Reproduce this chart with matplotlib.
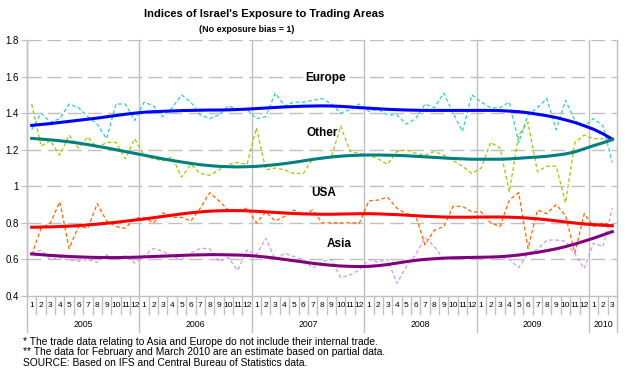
import matplotlib
matplotlib.use('Agg')
import matplotlib.pyplot as plt
from matplotlib.lines import Line2D

plt.rcParams['font.family'] = ['Liberation Sans', 'DejaVu Sans']

years = ['2005', '2006', '2007', '2008', '2009', '2010']
months_per_year = [12, 12, 12, 12, 12, 3]
month_labels = [str(m) for n in months_per_year for m in range(1, n + 1)]

# smoothed trend lines
europe_trend = [1.333, 1.338, 1.343, 1.349, 1.355, 1.361, 1.367, 1.373, 1.380, 1.387, 1.394, 1.400,
                1.405, 1.408, 1.410, 1.412, 1.414, 1.415, 1.416, 1.417, 1.417, 1.418, 1.420, 1.422,
                1.425, 1.428, 1.431, 1.434, 1.436, 1.438, 1.439, 1.440, 1.439, 1.437, 1.434, 1.430,
                1.427, 1.424, 1.421, 1.419, 1.417, 1.416, 1.415, 1.415, 1.415, 1.415, 1.415, 1.415,
                1.415, 1.415, 1.414, 1.411, 1.408, 1.402, 1.394, 1.386, 1.376, 1.363, 1.349, 1.331,
                1.312, 1.287, 1.258]
other_trend = [1.262, 1.258, 1.254, 1.249, 1.243, 1.236, 1.228, 1.219, 1.210, 1.200, 1.190, 1.180,
               1.170, 1.160, 1.150, 1.141, 1.133, 1.125, 1.118, 1.113, 1.109, 1.107, 1.106, 1.107,
               1.109, 1.113, 1.118, 1.124, 1.131, 1.139, 1.147, 1.154, 1.160, 1.165, 1.168, 1.170,
               1.171, 1.171, 1.170, 1.169, 1.167, 1.164, 1.161, 1.158, 1.155, 1.152, 1.150, 1.148,
               1.148, 1.148, 1.148, 1.150, 1.153, 1.157, 1.160, 1.164, 1.170, 1.177, 1.188, 1.205,
               1.222, 1.238, 1.255]
usa_trend = [0.776, 0.777, 0.778, 0.780, 0.782, 0.785, 0.789, 0.793, 0.798, 0.803, 0.809, 0.815,
             0.821, 0.828, 0.835, 0.842, 0.849, 0.855, 0.860, 0.864, 0.866, 0.867, 0.867, 0.866,
             0.863, 0.860, 0.857, 0.854, 0.851, 0.849, 0.848, 0.847, 0.847, 0.848, 0.849, 0.850,
             0.850, 0.849, 0.847, 0.845, 0.842, 0.839, 0.836, 0.834, 0.832, 0.831, 0.831, 0.831,
             0.832, 0.832, 0.832, 0.831, 0.829, 0.826, 0.822, 0.817, 0.811, 0.805, 0.799, 0.794,
             0.790, 0.787, 0.784]
asia_trend = [0.630, 0.626, 0.622, 0.619, 0.616, 0.614, 0.612, 0.611, 0.610, 0.610, 0.611, 0.612,
              0.614, 0.616, 0.618, 0.620, 0.622, 0.624, 0.625, 0.626, 0.626, 0.625, 0.624, 0.622,
              0.618, 0.613, 0.607, 0.600, 0.593, 0.586, 0.579, 0.573, 0.568, 0.564, 0.562, 0.561,
              0.562, 0.566, 0.572, 0.580, 0.588, 0.595, 0.600, 0.604, 0.607, 0.609, 0.610, 0.611,
              0.612, 0.613, 0.615, 0.619, 0.624, 0.631, 0.639, 0.648, 0.658, 0.670, 0.684, 0.700,
              0.716, 0.734, 0.752]

# monthly indices
europe = [1.31, 1.40, 1.35, 1.37, 1.45, 1.43, 1.38, 1.34, 1.26, 1.45, 1.45, 1.36,
          1.46, 1.44, 1.38, 1.43, 1.50, 1.46, 1.39, 1.37, 1.39, 1.44, 1.42, 1.42,
          1.37, 1.38, 1.51, 1.44, 1.46, 1.46, 1.47, 1.48, 1.45, 1.40, 1.42, 1.45,
          1.41, 1.42, 1.39, 1.39, 1.34, 1.37, 1.45, 1.43, 1.51, 1.40, 1.30, 1.50,
          1.46, 1.43, 1.43, 1.46, 1.24, 1.39, 1.43, 1.48, 1.31, 1.47, 1.36, 1.33,
          1.37, 1.33, 1.13]
other = [1.45, 1.22, 1.25, 1.17, 1.28, 1.21, 1.27, 1.21, 1.24, 1.24, 1.15, 1.26,
         1.17, 1.15, 1.14, 1.16, 1.05, 1.12, 1.07, 1.06, 1.09, 1.12, 1.13, 1.12,
         1.32, 1.09, 1.10, 1.09, 1.07, 1.07, 1.15, 1.15, 1.16, 1.33, 1.19, 1.18,
         1.17, 1.15, 1.12, 1.19, 1.20, 1.18, 1.17, 1.19, 1.17, 1.14, 1.11, 1.07,
         1.10, 1.24, 1.21, 0.97, 1.28, 1.35, 1.08, 1.11, 1.11, 0.91, 1.24, 1.28,
         1.26, 1.26, 1.26]
usa = [0.625, 0.77, 0.80, 0.915, 0.66, 0.78, 0.77, 0.905, 0.81, 0.78, 0.77, 0.825,
       0.83, 0.80, 0.855, 0.83, 0.83, 0.81, 0.88, 0.965, 0.92, 0.87, 0.86, 0.88,
       0.80, 0.86, 0.81, 0.835, 0.87, 0.845, 0.87, 0.80, 0.80, 0.80, 0.80, 0.80,
       0.92, 0.925, 0.94, 0.88, 0.85, 0.84, 0.68, 0.76, 0.78, 0.89, 0.89, 0.86,
       0.86, 0.80, 0.78, 0.925, 0.965, 0.66, 0.87, 0.85, 0.90, 0.84, 0.635, 0.85,
       0.78, 0.80, 0.79]
asia = [0.634, 0.65, 0.60, 0.61, 0.595, 0.59, 0.60, 0.583, 0.625, 0.60, 0.62, 0.58,
        0.62, 0.66, 0.645, 0.615, 0.60, 0.635, 0.66, 0.66, 0.588, 0.61, 0.54, 0.652,
        0.625, 0.716, 0.60, 0.634, 0.615, 0.60, 0.552, 0.588, 0.60, 0.50, 0.515, 0.543,
        0.60, 0.585, 0.60, 0.47, 0.56, 0.625, 0.72, 0.67, 0.60, 0.61, 0.61, 0.61,
        0.61, 0.615, 0.615, 0.60, 0.555, 0.635, 0.655, 0.706, 0.706, 0.70, 0.63, 0.55,
        0.69, 0.67, 0.88]

x = list(range(len(month_labels)))

fig = plt.figure(figsize=(6.31, 3.83), dpi=100, facecolor='white')
ax = fig.add_axes([27 / 631, 1 - 296 / 383, 590 / 631, 256 / 383])

grey = '#c0c0c0'
ax.set_xlim(-0.5, len(x) - 0.5)
ax.set_ylim(0.4, 1.8)
ax.set_yticks([0.4, 0.6, 0.8, 1.0, 1.2, 1.4, 1.6, 1.8])
ax.set_yticklabels(['0.4', '0.6', '0.8', '1', '1.2', '1.4', '1.6', '1.8'], fontsize=7)
ax.tick_params(axis='y', length=4, color=grey, pad=2)
ax.set_xticks([])
for s in ['top', 'right']:
    ax.spines[s].set_visible(False)
for s in ['left', 'bottom']:
    ax.spines[s].set_color(grey)
    ax.spines[s].set_linewidth(1)
for v in [0.6, 0.8, 1.0, 1.2, 1.4, 1.6, 1.8]:
    ax.axhline(v, color=grey, lw=1, dashes=(10, 4.5), zorder=0)

# month / year category axis
bounds = [-0.5]
for n in months_per_year:
    bounds.append(bounds[-1] + n)
for b in bounds:
    ax.add_line(Line2D([b, b], [-0.14, 1.0], transform=ax.get_xaxis_transform(),
                       color=grey, lw=1, clip_on=False, zorder=0))
for i, lab in enumerate(month_labels):
    ax.text(i, -0.038, lab, transform=ax.get_xaxis_transform(), ha='center', va='center', fontsize=6)
    if i + 0.5 not in bounds:
        ax.add_line(Line2D([i + 0.5, i + 0.5], [-0.07, 0], transform=ax.get_xaxis_transform(),
                           color=grey, lw=1, clip_on=False))
for k, yr in enumerate(years):
    ax.text((bounds[k] + bounds[k + 1]) / 2, -0.113, yr, transform=ax.get_xaxis_transform(),
            ha='center', va='center', fontsize=6.3)

dash = (3, 2)
ax.plot(x, europe, color='#33cccc', lw=0.9, dashes=dash)
ax.plot(x, other, color='#99cc00', lw=0.9, dashes=dash)
ax.plot(x, usa, color='#ff6600', lw=0.9, dashes=dash)
ax.plot(x, asia, color='#cc99ff', lw=0.9, dashes=dash)
ax.plot(x, europe_trend, color='#0000ff', lw=2.2)
ax.plot(x, other_trend, color='#008080', lw=2.2)
ax.plot(x, usa_trend, color='#ff0000', lw=2.2)
ax.plot(x, asia_trend, color='#800080', lw=2.2)

ax.text(31.4, 1.592, 'Europe', ha='center', va='center', fontsize=8.5, fontweight='bold')
ax.text(31.0, 1.291, 'Other', ha='center', va='center', fontsize=8.5, fontweight='bold')
ax.text(31.2, 0.965, 'USA', ha='center', va='center', fontsize=8.5, fontweight='bold')
ax.text(32.8, 0.685, 'Asia', ha='center', va='center', fontsize=8.5, fontweight='bold')

fig.text(264 / 631, 1 - 14 / 383, "Indices of Israel's Exposure to Trading Areas",
         ha='center', va='center', fontsize=8.1, fontweight='bold')
fig.text(247 / 631, 1 - 30 / 383, '(No exposure bias = 1)',
         ha='center', va='center', fontsize=6.4, fontweight='bold')

notes = ['* The trade data relating to Asia and Europe do not include their internal trade.',
         '** The data for February and March 2010 are an estimate based on partial data.',
         'SOURCE: Based on IFS and Central Bureau of Statistics data.']
for k, t in enumerate(notes):
    fig.text(23 / 631, 1 - (342 + 10.3 * k) / 383, t, ha='left', va='center', fontsize=7.4)

fig.savefig('out.png', dpi=100, facecolor='white')
